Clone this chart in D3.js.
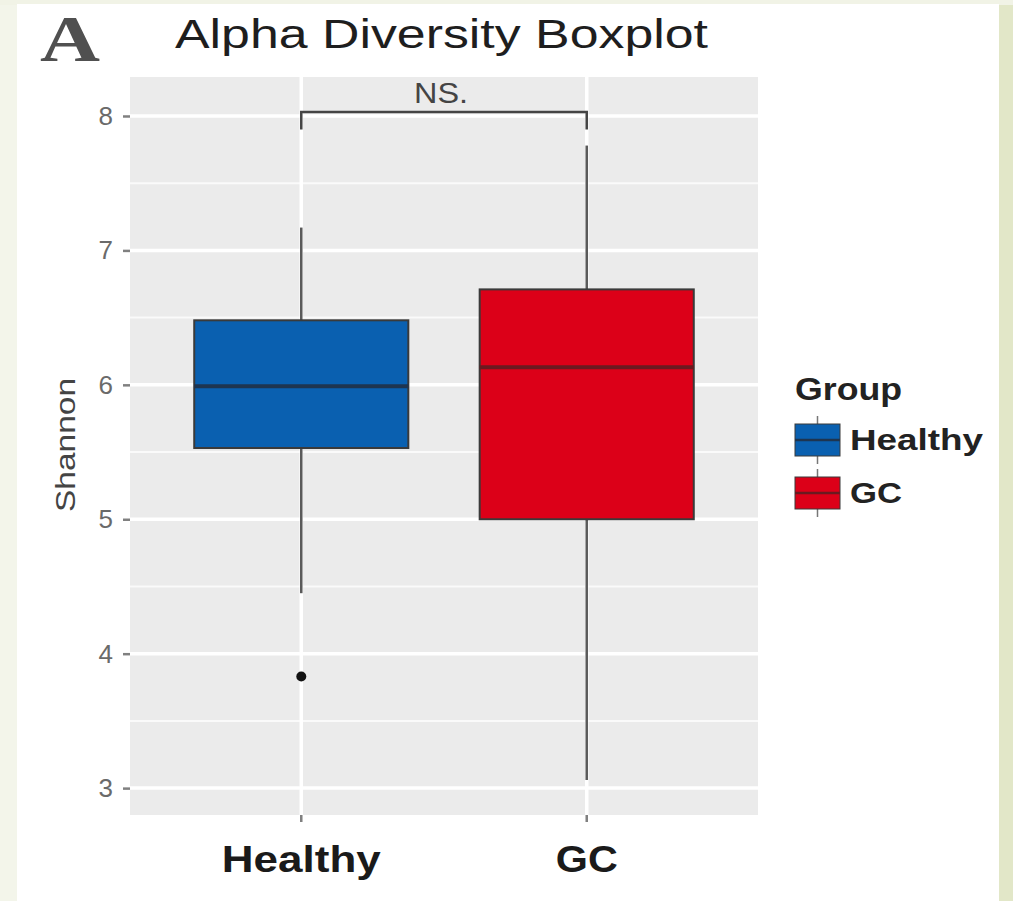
<!DOCTYPE html>
<html><head><meta charset="utf-8">
<script src="https://cdn.jsdelivr.net/npm/d3@7"></script>
<style>
html,body{margin:0;padding:0;background:#e3e8ca;}
svg{display:block;}
text{font-family:"Liberation Sans",Arial,sans-serif;}
</style></head>
<body>
<svg id="c" width="1013" height="901"></svg>
<script>
const groups = ["Healthy", "GC"];
const q1 = [5.53, 5.00];
const medians = [5.99, 6.13];
const q3 = [6.48, 6.71];
const whiskerLow = [4.45, 3.06];
const whiskerHigh = [7.17, 7.78];
const outliers = [[3.83], []];
const yTicks = [3, 4, 5, 6, 7, 8];
const yMinor = [3.5, 4.5, 5.5, 6.5, 7.5];
const colors = ["#0a60b0", "#dc0018"];
const sigLabel = "NS.";
const sigLevel = 8.03, sigTip = 7.90;

const svg = d3.select("#c");
// outer backdrop
svg.append("rect").attr("x",0).attr("y",0).attr("width",1013).attr("height",901).attr("fill","#e2e7c8");
svg.append("rect").attr("x",0).attr("y",0).attr("width",30).attr("height",901).attr("fill","#f3f5ea");
svg.append("rect").attr("x",0).attr("y",0).attr("width",1013).attr("height",5).attr("fill","#f1f3e6");
svg.append("rect").attr("x",17).attr("y",4).attr("width",982).attr("height",897).attr("fill","#ffffff");

const P = {l:130, r:758, t:77, b:815};
const y = d3.scaleLinear().domain([2.80, 8.29]).range([P.b, P.t]);
const x = d3.scaleBand().domain(groups).range([P.l, P.r]).paddingInner(0.25).paddingOuter(0.225);
const cx = g => x(g) + x.bandwidth()/2;

// panel
svg.append("rect").attr("x",P.l).attr("y",P.t).attr("width",P.r-P.l).attr("height",P.b-P.t).attr("fill","#ebebeb");
const grid = svg.append("g");
grid.selectAll(".mn").data(yMinor).join("line")
  .attr("x1",P.l).attr("x2",P.r).attr("y1",d=>y(d)).attr("y2",d=>y(d))
  .attr("stroke","#fafafa").attr("stroke-width",2);
grid.selectAll(".mj").data(yTicks).join("line")
  .attr("x1",P.l).attr("x2",P.r).attr("y1",d=>y(d)).attr("y2",d=>y(d))
  .attr("stroke","#ffffff").attr("stroke-width",3.5);
grid.selectAll(".vx").data(groups).join("line")
  .attr("x1",d=>cx(d)).attr("x2",d=>cx(d)).attr("y1",P.t).attr("y2",P.b)
  .attr("stroke","#ffffff").attr("stroke-width",3.5);

// axes
const yAxis = svg.append("g").attr("transform",`translate(${P.l},0)`)
  .call(d3.axisLeft(y).tickValues(yTicks).tickSize(7).tickPadding(10).tickFormat(d3.format("d")));
yAxis.select(".domain").remove();
yAxis.selectAll("line").attr("stroke","#808080").attr("stroke-width",2.5);
yAxis.selectAll("text").attr("fill","#6a6a6a").style("font-size","26px").style("font-family","Liberation Sans, Arial, sans-serif");

const xAxis = svg.append("g").attr("transform",`translate(0,${P.b})`)
  .call(d3.axisBottom(x).tickSize(7).tickPadding(20));
xAxis.select(".domain").remove();
xAxis.selectAll("line").attr("stroke","#808080").attr("stroke-width",2.5);
xAxis.selectAll("text").attr("fill","#1a1a1a").style("font-size","37px").style("font-weight","bold")
  .style("font-family","Liberation Sans, Arial, sans-serif")
  .attr("dy",null).attr("y",57)
  .attr("textLength",d=> d==="Healthy"?159:62).attr("lengthAdjust","spacingAndGlyphs");

// boxes
const bx = svg.append("g");
groups.forEach((g,i)=>{
  const c = cx(g);
  bx.append("line").attr("x1",c).attr("x2",c).attr("y1",y(whiskerHigh[i])).attr("y2",y(q3[i]))
    .attr("stroke","#5a5a5a").attr("stroke-width",2.5);
  bx.append("line").attr("x1",c).attr("x2",c).attr("y1",y(q1[i])).attr("y2",y(whiskerLow[i]))
    .attr("stroke","#5a5a5a").attr("stroke-width",2.5);
  bx.append("rect").attr("x",x(g)).attr("width",x.bandwidth())
    .attr("y",y(q3[i])).attr("height",y(q1[i])-y(q3[i]))
    .attr("fill",colors[i]).attr("stroke","#3a3a3a").attr("stroke-width",2);
  bx.append("line").attr("x1",x(g)).attr("x2",x(g)+x.bandwidth()).attr("y1",y(medians[i])).attr("y2",y(medians[i]))
    .attr("stroke", i===0 ? "#1e3550" : "#6a1a20").attr("stroke-width",4);
  bx.selectAll(null).data(outliers[i]).join("circle")
    .attr("cx",c).attr("cy",d=>y(d)).attr("r",5).attr("fill","#111");
});

// significance bracket
const xa = cx(groups[0]), xb = cx(groups[1]);
svg.append("path")
  .attr("d",`M${xa},${y(sigTip)}L${xa},${y(sigLevel)}L${xb},${y(sigLevel)}L${xb},${y(sigTip)}`)
  .attr("fill","none").attr("stroke","#444").attr("stroke-width",2.5);
svg.append("text").attr("x",(xa+xb)/2 - 3).attr("y",103).attr("text-anchor","middle")
  .attr("fill","#444").style("font-size","30px").attr("textLength",54).attr("lengthAdjust","spacingAndGlyphs")
  .text(sigLabel);

// y title
svg.append("text").attr("transform",`translate(75,445) rotate(-90)`).attr("text-anchor","middle")
  .attr("fill","#444").style("font-size","28px").attr("textLength",134).attr("lengthAdjust","spacingAndGlyphs")
  .text("Shannon");

// title
svg.append("text").attr("x",175).attr("y",48).attr("fill","#1e1e1e").style("font-size","41px")
  .attr("textLength",533).attr("lengthAdjust","spacingAndGlyphs").text("Alpha Diversity Boxplot");
svg.append("text").attr("x",40).attr("y",61).attr("fill","#505050")
  .style("font-family","Liberation Serif, Times New Roman, serif").style("font-weight","bold").style("font-size","66px")
  .attr("textLength",60).attr("lengthAdjust","spacingAndGlyphs").text("A");

// legend
const lg = svg.append("g");
lg.append("text").attr("x",795).attr("y",400).attr("fill","#222").style("font-size","32px").style("font-weight","bold")
  .attr("textLength",107).attr("lengthAdjust","spacingAndGlyphs").text("Group");
const keyY = [424, 477];
groups.forEach((g,i)=>{
  const k = lg.append("g").attr("transform",`translate(795,${keyY[i]})`);
  k.append("line").attr("x1",22.5).attr("x2",22.5).attr("y1",-8).attr("y2",40).attr("stroke","#777").attr("stroke-width",1.5);
  k.append("rect").attr("x",0).attr("y",0).attr("width",45).attr("height",32).attr("fill",colors[i]).attr("stroke","#3a3a3a").attr("stroke-width",1);
  k.append("line").attr("x1",0).attr("x2",45).attr("y1",16).attr("y2",16).attr("stroke", i===0 ? "#1e3550" : "#6a1a20").attr("stroke-width",2.5);
  k.append("text").attr("x",55).attr("y",26).attr("fill","#222").style("font-size","29px").style("font-weight","bold")
    .attr("textLength", g==="Healthy"?133:52).attr("lengthAdjust","spacingAndGlyphs").text(g);
});
</script>
</body></html>
